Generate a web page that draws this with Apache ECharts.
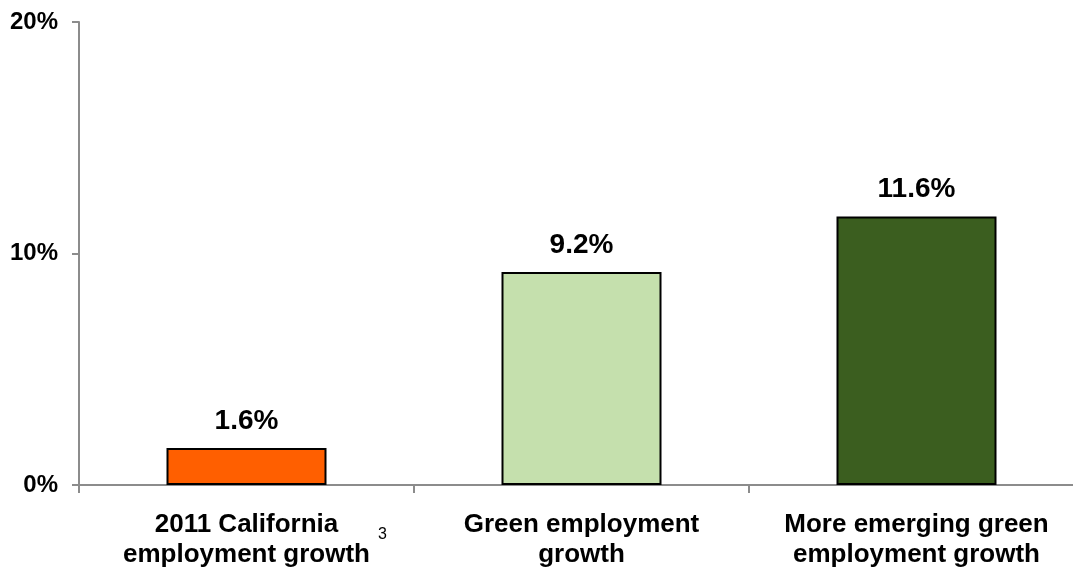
<!DOCTYPE html>
<html>
<head>
<meta charset="utf-8">
<script src="https://cdn.jsdelivr.net/npm/echarts@6/dist/echarts.min.js"></script>
<style>
  html, body { margin: 0; padding: 0; background: #fff; }
  #chart { width: 1073px; height: 570px; }
</style>
</head>
<body>
<div id="chart"></div>
<script>
// Employment growth, percent
const categories = ['2011 California\nemployment growth', 'Green employment\ngrowth', 'More emerging green\nemployment growth'];
const growthValues = [1.6, 9.2, 11.6];
const barColors = ['#FF5F00', '#C5E0AD', '#3B5E1F'];
const yTicks = { min: 0, max: 20, interval: 10 };
const footnoteMark = '3';

const FONT = '"Liberation Sans", Arial, sans-serif';
const AXIS_GRAY = '#8C8C8C';

const chart = echarts.init(document.getElementById('chart'), null, { renderer: 'canvas' });

chart.setOption({
  animation: false,
  backgroundColor: '#ffffff',
  // plot runs slightly past the right edge of the canvas
  grid: { left: 79, width: 1005, top: 22, bottom: 85, containLabel: false, outerBoundsMode: 'none' },
  xAxis: {
    type: 'category',
    data: categories,
    boundaryGap: true,
    axisLine: { lineStyle: { color: AXIS_GRAY, width: 2 } },
    axisTick: { show: true, alignWithLabel: false, length: 8, lineStyle: { color: AXIS_GRAY, width: 2 } },
    axisLabel: {
      interval: 0, margin: 25, color: '#000', fontFamily: FONT, fontWeight: 'bold',
      fontSize: 26, lineHeight: 30
    }
  },
  yAxis: {
    type: 'value',
    min: yTicks.min, max: yTicks.max, interval: yTicks.interval,
    axisLine: { show: true, lineStyle: { color: AXIS_GRAY, width: 2 } },
    axisTick: { show: true, length: 7, lineStyle: { color: AXIS_GRAY, width: 2 } },
    splitLine: { show: false },
    axisLabel: {
      formatter: '{value}%', margin: 21, color: '#000', fontFamily: FONT,
      fontWeight: 'bold', fontSize: 24
    }
  },
  series: [{
    type: 'bar',
    barWidth: 160,
    data: growthValues.map((v, i) => ({
      value: v,
      itemStyle: { color: barColors[i], borderColor: '#000', borderWidth: 2 }
    })),
    label: {
      show: true, position: 'top', distance: 13,
      formatter: p => p.value.toFixed(1) + '%',
      color: '#000', fontFamily: FONT, fontWeight: 'bold', fontSize: 28
    }
  }]
});

// Footnote marker beside the first category label
const base = chart.convertToPixel({ xAxisIndex: 0, yAxisIndex: 0 }, [0, 0]);
chart.setOption({
  graphic: [{
    type: 'text',
    x: base[0] + 136, y: base[1] + 50,
    style: { text: footnoteMark, fill: '#000', font: '16px ' + FONT, textAlign: 'center', textVerticalAlign: 'middle' }
  }]
});
</script>
</body>
</html>
